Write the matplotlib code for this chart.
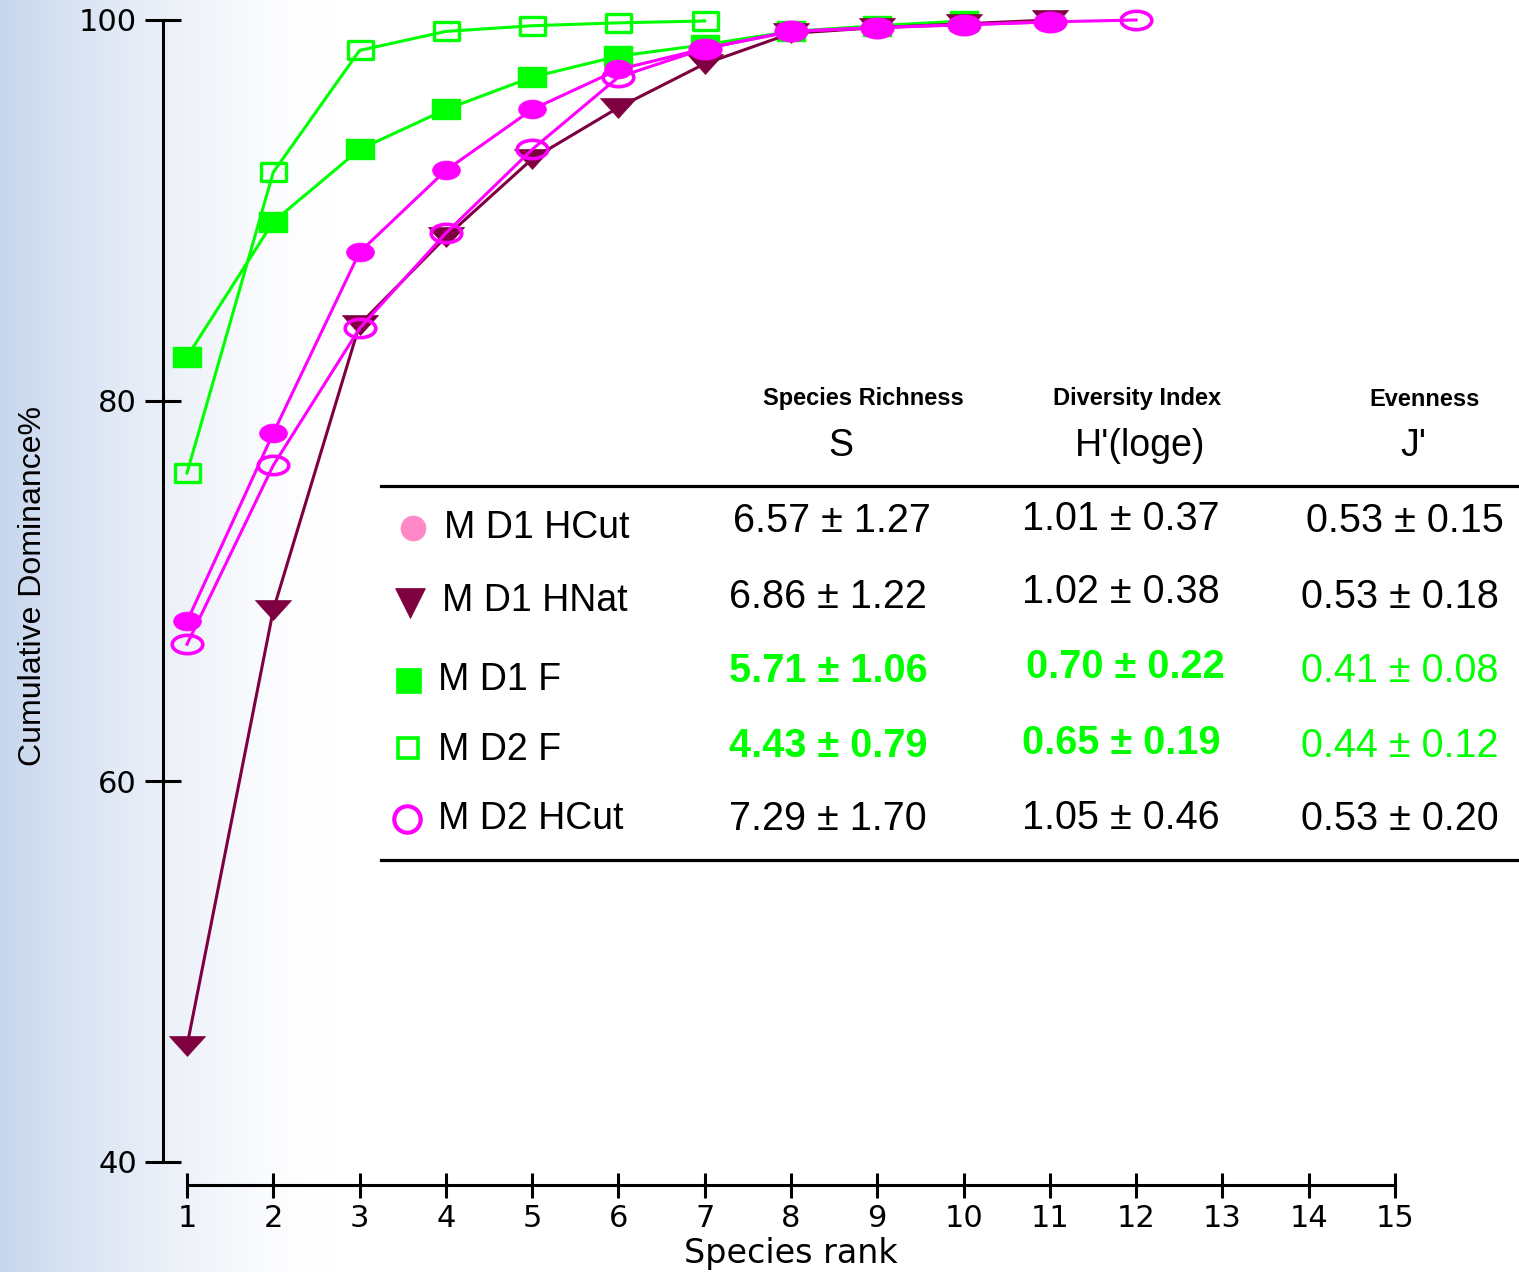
import matplotlib.pyplot as plt
import numpy as np
from matplotlib.lines import Line2D
from matplotlib.path import Path
from matplotlib.transforms import Affine2D

W, H = 1519, 1272

# cumulative dominance curves
rank_md1_f = list(range(1, 11))
md1_f = [82.3, 89.4, 93.2, 95.3, 97.0, 98.1, 98.7, 99.4, 99.7, 99.95]
rank_md2_f = list(range(1, 8))
md2_f = [76.2, 92.0, 98.4, 99.4, 99.7, 99.85, 99.95]
rank_md1_hnat = list(range(1, 12))
md1_hnat = [46.1, 69.0, 84.0, 88.6, 92.7, 95.4, 97.7, 99.3, 99.6, 99.8, 100.0]
rank_md1_hcut = list(range(1, 12))
md1_hcut = [68.4, 78.3, 87.8, 92.1, 95.3, 97.4, 98.5, 99.4, 99.6, 99.75, 99.9]
rank_md2_hcut = list(range(1, 13))
md2_hcut = [67.2, 76.6, 83.8, 88.8, 93.2, 97.0, 98.5, 99.4, 99.6, 99.75, 99.9, 100.0]

# table
groups = ['M D1 HCut', 'M D1 HNat', 'M D1 F', 'M D2 F', 'M D2 HCut']
richness = ['6.57 ± 1.27', '6.86 ± 1.22', '5.71 ± 1.06', '4.43 ± 0.79', '7.29 ± 1.70']
diversity = ['1.01 ± 0.37', '1.02 ± 0.38', '0.70 ± 0.22', '0.65 ± 0.19', '1.05 ± 0.46']
evenness = ['0.53 ± 0.15', '0.53 ± 0.18', '0.41 ± 0.08', '0.44 ± 0.12', '0.53 ± 0.20']

GREEN = '#00FF00'
MAGENTA = '#FF00FF'
WINE = '#7F0040'
PINK = '#FF88C8'


def px(x, y):
    return x / W, 1 - y / H


# squashed markers, like the original export
sq = Path.unit_rectangle().transformed(Affine2D().translate(-0.5, -0.5).scale(1, 0.7))
circ = Path.unit_circle().transformed(Affine2D().scale(1, 0.68))
ocirc = Path.unit_circle().transformed(Affine2D().scale(1, 0.6))
tri = Path([(-1, 0.55), (1, 0.55), (0, -0.55), (-1, 0.55)],
           [Path.MOVETO, Path.LINETO, Path.LINETO, Path.CLOSEPOLY])

fig = plt.figure(figsize=(W / 100, H / 100), dpi=100)

# background gradient
bg = fig.add_axes([0, 0, 1, 1], zorder=-10)
t = np.linspace(0, 1, W)
f = np.clip(1 - t / 0.22, 0, 1) ** 1.5
left = np.array([0.78, 0.84, 0.93])
row = (1 - f)[:, None] * 1.0 + f[:, None] * left
bg.imshow(row[None, :, :], aspect='auto', extent=[0, 1, 0, 1])
bg.axis('off')

ax = fig.add_axes([163 / W, 1 - 1185 / H, (W - 163) / W, (1185 - 20) / H])
ax.set_facecolor('none')

ax.plot(rank_md1_f, md1_f, color=GREEN, lw=2.2, marker=sq, ms=20,
        mfc=GREEN, mec=GREEN, mew=1, clip_on=False, zorder=3)
ax.plot(rank_md2_f, md2_f, color=GREEN, lw=2.2, marker=sq, ms=18,
        mfc='none', mec=GREEN, mew=2.4, clip_on=False, zorder=3)
ax.plot(rank_md1_hnat, md1_hnat, color=WINE, lw=2.2, marker=tri, ms=26,
        mfc=WINE, mec=WINE, mew=0.5, clip_on=False, zorder=4)
ax.plot(rank_md1_hcut, md1_hcut, color=MAGENTA, lw=2.2, marker=circ, ms=20,
        mfc=MAGENTA, mec=MAGENTA, mew=0.5, clip_on=False, zorder=5)
ax.plot(rank_md2_hcut, md2_hcut, color=MAGENTA, lw=2.2, marker=ocirc, ms=22,
        mfc='none', mec=MAGENTA, mew=2.6, clip_on=False, zorder=6)

ax.set_xlim(0.7219, 16.437)
ax.set_ylim(38.79, 100)
for s in ['top', 'right']:
    ax.spines[s].set_visible(False)
ax.spines['left'].set_bounds(40, 100)
ax.spines['bottom'].set_bounds(1, 15)
ax.spines['left'].set_linewidth(2.2)
ax.spines['bottom'].set_linewidth(2.2)

ax.set_yticks([40, 60, 80, 100])
ax.set_xticks(range(1, 16))
ax.tick_params(axis='y', direction='inout', length=26, width=2.2, pad=5.8, labelsize=22)
ax.tick_params(axis='x', direction='inout', length=18, width=2.2, pad=5.0, labelsize=22)
for lab in ax.get_xticklabels() + ax.get_yticklabels():
    lab.set_family('DejaVu Sans')

ax.set_xlabel('Species rank', fontsize=24, family='DejaVu Sans')
ax.xaxis.set_label_coords(0.463, -0.045)
ax.set_ylabel('Cumulative Dominance%', fontsize=23, family='Liberation Sans')
ax.yaxis.set_label_coords(-0.085, 0.514)

# table
fnt = 'Liberation Sans'
for x, y, s in [(863, 399, 'Species Richness'), (1137, 398, 'Diversity Index'), (1425, 399, 'Evenness')]:
    fig.text(*px(x, y), s, ha='center', va='center', fontsize=17, weight='bold', family=fnt)
for x, y, s in [(841, 446, 'S'), (1140, 446, "H'(loge)"), (1413, 446, "J'")]:
    fig.text(*px(x, y), s, ha='center', va='center', fontsize=27, family=fnt)

for yy in [486, 860]:
    fig.add_artist(Line2D([381 / W, 1], [1 - yy / H] * 2, transform=fig.transFigure,
                          color='black', lw=2.3))

label_pos = [(444, 528), (442, 601), (438, 680), (438, 750), (438, 819)]
s_pos = [(832, 521), (828, 597), (828, 671), (828, 746), (828, 819)]
h_pos = [(1121, 519), (1121, 592), (1125, 667), (1121, 743), (1121, 818)]
j_pos = [(1405, 521), (1400, 597), (1400, 671), (1400, 746), (1400, 819)]

for i, g in enumerate(groups):
    green = g in ('M D1 F', 'M D2 F')
    col = GREEN if green else 'black'
    w = 'bold' if green else 'normal'
    fig.text(*px(*label_pos[i]), g, ha='left', va='center', fontsize=27, family=fnt)
    fig.text(*px(*s_pos[i]), richness[i], ha='center', va='center', fontsize=28.5,
             family=fnt, color=col, weight=w)
    fig.text(*px(*h_pos[i]), diversity[i], ha='center', va='center', fontsize=28.5,
             family=fnt, color=col, weight=w)
    fig.text(*px(*j_pos[i]), evenness[i], ha='center', va='center', fontsize=28.5,
             family=fnt, color=col)

# legend symbols
legend_marks = [
    ((413, 528), 'o', 18, PINK, PINK, 0.5),
    ((410, 603), 'v', 21, WINE, WINE, 0.5),
    ((408, 680), 's', 18, GREEN, GREEN, 0.5),
    ((408, 748), 's', 15, 'none', GREEN, 2.6),
    ((407, 819), 'o', 19, 'none', MAGENTA, 3.0),
]
for (x, y), m, ms, fc, ec, mew in legend_marks:
    fig.add_artist(Line2D([x / W], [1 - y / H], transform=fig.transFigure, marker=m,
                          ms=ms, mfc=fc, mec=ec, mew=mew, ls='none'))

fig.savefig('out.png', dpi=100)
